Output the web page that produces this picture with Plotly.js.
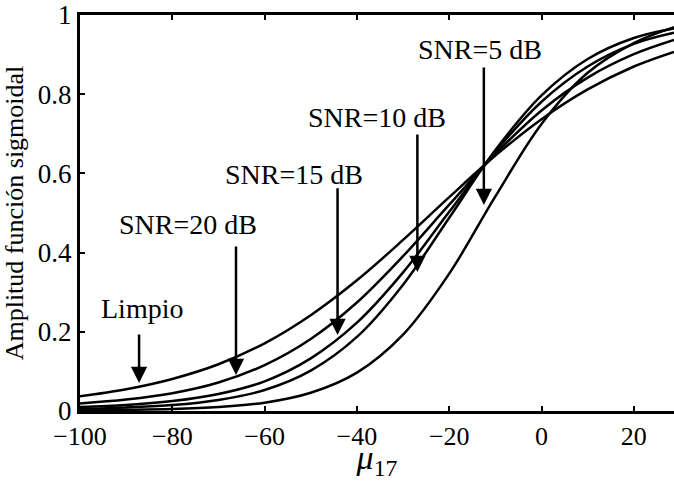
<!DOCTYPE html>
<html>
<head>
<meta charset="utf-8">
<script src="https://cdn.plot.ly/plotly-3.0.1.min.js"></script>
<style>html,body{margin:0;padding:0;background:#fff;}#chart{width:674px;height:481px;}</style>
</head>
<body>
<div id="chart"></div>
<script>
// x positions (mu_17)
const xVals = [-100, -90, -80, -70, -60, -50, -40, -30, -20, -10, 0, 10, 20, 28.7];
// sigmoid amplitude curves
const limpio = [0.037, 0.055, 0.081, 0.118, 0.171, 0.242, 0.330, 0.432, 0.540, 0.645, 0.737, 0.812, 0.870, 0.907];
const snr20  = [0.019, 0.029, 0.045, 0.072, 0.116, 0.182, 0.274, 0.391, 0.521, 0.649, 0.759, 0.842, 0.901, 0.937];
const snr15  = [0.010, 0.015, 0.025, 0.043, 0.075, 0.133, 0.223, 0.350, 0.503, 0.655, 0.781, 0.870, 0.927, 0.955];
const snr10  = [0.005, 0.009, 0.015, 0.028, 0.053, 0.102, 0.187, 0.319, 0.488, 0.659, 0.797, 0.889, 0.942, 0.966];
const snr5   = [0.002, 0.003, 0.005, 0.010, 0.021, 0.046, 0.097, 0.193, 0.347, 0.542, 0.725, 0.854, 0.929, 0.969];
const seriesNames = ['Limpio', 'SNR=20 dB', 'SNR=15 dB', 'SNR=10 dB', 'SNR=5 dB'];
const seriesVals = [limpio, snr20, snr15, snr10, snr5];
const xTicks = [-100, -80, -60, -40, -20, 0, 20];
const yTicks = [0, 0.2, 0.4, 0.6, 0.8, 1];
const yTickText = ['0', '0.2', '0.4', '0.6', '0.8', '1'];

// annotation placement (label centre, arrow tail, arrow tip)
const labelX = [-86.5, -76.6, -53.7, -35.6, -13.3];
const labelY = [0.258, 0.470, 0.598, 0.742, 0.912];
const arrowX = [-87.2, -66.2, -44.2, -26.9, -12.5];
const arrowTail = [0.197, 0.419, 0.566, 0.702, 0.871];
const arrowTip = [0.071, 0.091, 0.192, 0.351, 0.520];

const FONT = "'Liberation Serif', 'Times New Roman', Times, serif";

const traces = seriesVals.map((v, i) => ({
  x: xVals, y: v, name: seriesNames[i], type: 'scatter', mode: 'lines',
  line: {color: '#000', width: 2.5, shape: 'spline', smoothing: 1},
  showlegend: false, hoverinfo: 'skip'
}));

const annotations = [];
seriesNames.forEach((t, i) => {
  annotations.push({x: labelX[i], y: labelY[i], xref: 'x', yref: 'y', text: t, showarrow: false,
    font: {family: FONT, size: 28, color: '#000'}, xanchor: 'center', yanchor: 'middle'});
  annotations.push({x: arrowX[i], y: arrowTip[i], ax: arrowX[i], ay: arrowTail[i], axref: 'x', ayref: 'y',
    xref: 'x', yref: 'y', text: '', showarrow: true, arrowhead: 2, arrowsize: 1.3, arrowwidth: 2.5,
    arrowcolor: '#000', standoff: 0, startstandoff: 0});
});

const layout = {
  width: 674, height: 481,
  margin: {l: 80, r: 0, t: 15, b: 70},
  paper_bgcolor: '#fff', plot_bgcolor: '#fff',
  font: {family: FONT, color: '#000', size: 26},
  xaxis: {
    range: [-100, 28.7], tickvals: xTicks, ticks: 'inside', ticklen: 5, tickwidth: 2, tickcolor: '#000',
    showline: true, linewidth: 3, linecolor: '#000', mirror: 'ticks', showgrid: false, zeroline: false,
    tickfont: {family: FONT, size: 26, color: '#000'},
    title: {text: '<i>μ</i><sub>17</sub>', font: {family: FONT, size: 34, color: '#000'}}
  },
  yaxis: {
    range: [0, 1], tickvals: yTicks, ticktext: yTickText, ticks: 'inside', ticklen: 5, tickwidth: 2, tickcolor: '#000',
    showline: true, linewidth: 3, linecolor: '#000', mirror: false, showgrid: false, zeroline: false,
    tickfont: {family: FONT, size: 27, color: '#000'},
    title: {text: 'Amplitud función sigmoidal', font: {family: FONT, size: 26, color: '#000'}}
  },
  annotations: annotations
};

Plotly.newPlot('chart', traces, layout, {displayModeBar: false, staticPlot: true});
</script>
</body>
</html>
